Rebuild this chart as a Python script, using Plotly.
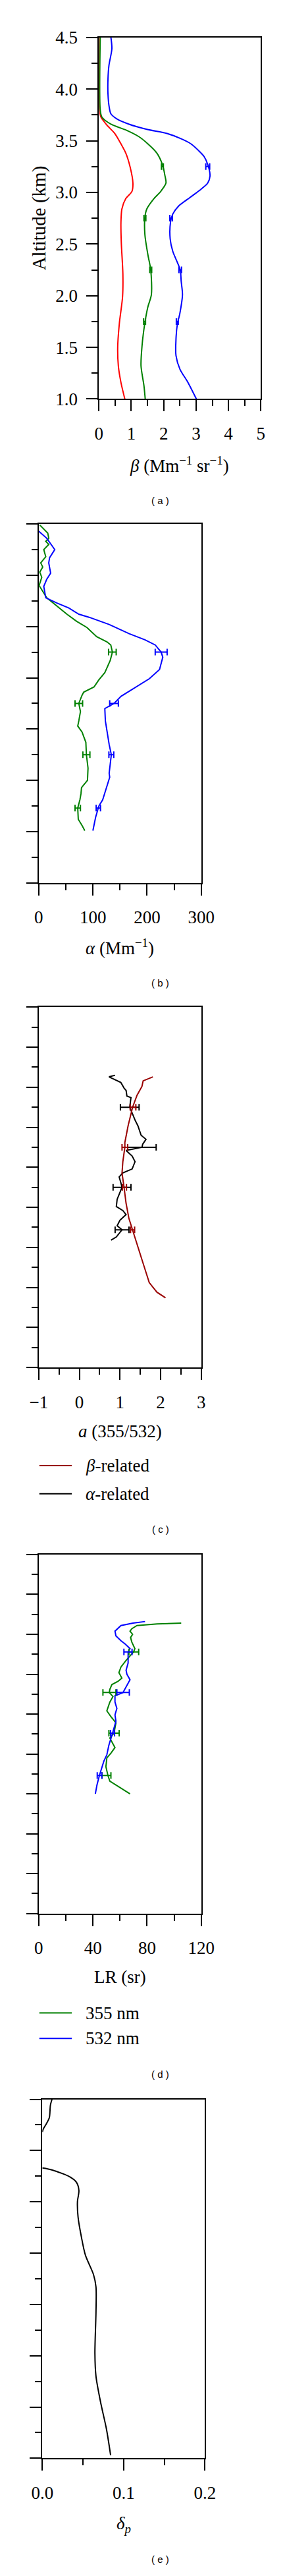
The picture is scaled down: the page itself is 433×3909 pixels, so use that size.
import plotly.graph_objects as go

W, H = 433, 3909

# ---- (a) backscatter coefficient ----
a_red_alt = [4.5, 3.80, 3.73, 3.65, 3.57, 3.47, 3.38, 3.25, 3.09, 3.01, 2.94, 2.84, 2.71, 2.52, 2.21, 1.99, 1.73, 1.50, 1.32, 1.16, 1.0]
a_red_beta = [0.02, 0.02, 0.06, 0.25, 0.49, 0.68, 0.83, 0.96, 1.05, 1.02, 0.83, 0.71, 0.68, 0.69, 0.74, 0.73, 0.63, 0.58, 0.60, 0.68, 0.80]

a_green_alt = [4.5, 3.80, 3.73, 3.66, 3.60, 3.54, 3.47, 3.38, 3.27, 3.16, 3.09, 3.01, 2.94, 2.84, 2.76, 2.59, 2.40, 2.25, 2.01, 1.89, 1.72, 1.51, 1.32, 1.13, 1.0]
a_green_beta = [0.04, 0.04, 0.09, 0.37, 0.86, 1.23, 1.51, 1.79, 1.96, 2.04, 2.07, 1.91, 1.70, 1.48, 1.42, 1.42, 1.51, 1.60, 1.62, 1.51, 1.41, 1.33, 1.30, 1.39, 1.43]

a_blue_alt = [4.5, 4.39, 4.23, 4.10, 3.95, 3.82, 3.76, 3.71, 3.66, 3.61, 3.57, 3.52, 3.47, 3.41, 3.35, 3.27, 3.16, 3.09, 3.03, 2.95, 2.87, 2.79, 2.71, 2.55, 2.43, 2.25, 2.14, 2.01, 1.83, 1.72, 1.58, 1.42, 1.29, 1.16, 1.0]
a_blue_beta = [0.37, 0.40, 0.31, 0.28, 0.28, 0.32, 0.37, 0.56, 0.93, 1.48, 2.10, 2.53, 2.84, 3.06, 3.24, 3.36, 3.43, 3.36, 3.15, 2.81, 2.47, 2.28, 2.21, 2.20, 2.28, 2.51, 2.54, 2.58, 2.50, 2.42, 2.38, 2.38, 2.50, 2.75, 3.01]

a_err_alt = [3.25, 2.75, 2.25, 1.75]
a_green_err_x = [1.96, 1.42, 1.60, 1.41]
a_green_err = [0.03, 0.03, 0.03, 0.03]
a_blue_err_x = [3.36, 2.23, 2.51, 2.42]
a_blue_err = [0.06, 0.04, 0.04, 0.03]

# ---- (b) extinction coefficient ----
b_green_alt = [4.49, 4.41, 4.36, 4.33, 4.30, 4.25, 4.18, 4.12, 4.08, 4.03, 3.98, 3.90, 3.78, 3.70, 3.62, 3.55, 3.49, 3.40, 3.35, 3.32, 3.25, 3.17, 3.05, 2.98, 2.91, 2.86, 2.83, 2.75, 2.67, 2.58, 2.53, 2.47, 2.37, 2.25, 2.12, 2.00, 1.93, 1.87, 1.81, 1.73, 1.62, 1.56, 1.51]
b_green_alpha = [1.9, 16.7, 18.5, 13, 18.5, 9.3, 13, 3.7, 7.4, 1.9, 5.6, 0.7, 14.8, 33, 52, 70, 89, 107, 126, 133, 136, 132, 122, 111, 102, 83, 80, 74, 77, 74, 72, 80, 87, 88, 91, 90, 79, 78, 76, 72, 73, 80, 85]

b_blue_alt = [4.43, 4.36, 4.25, 4.17, 4.12, 4.02, 3.96, 3.89, 3.78, 3.73, 3.68, 3.62, 3.59, 3.52, 3.43, 3.37, 3.32, 3.25, 3.20, 3.08, 2.99, 2.89, 2.82, 2.75, 2.70, 2.58, 2.47, 2.35, 2.25, 2.07, 2.03, 1.87, 1.81, 1.75, 1.73, 1.64, 1.51]
b_blue_alpha = [0, 14.8, 29.6, 20, 18.5, 22, 14.8, 9.3, 13, 33, 55.6, 74, 93, 130, 167, 196, 215, 226, 229, 223, 204, 174, 152, 139, 122, 123, 126, 130, 134, 130, 131, 122, 118, 111, 110, 105, 100]

b_err_alt = [3.25, 2.75, 2.25, 1.73]
b_green_err_x = [136, 74, 88, 72]
b_green_err = [7, 7, 6.5, 5]
b_blue_err_x = [226, 139, 134, 110]
b_blue_err = [11, 8, 4.5, 4]

# ---- (c) Angstrom exponent ----
c_beta_alt = [3.63, 3.58, 3.51, 3.40, 3.25, 3.02, 2.81, 2.75, 2.57, 2.43, 2.25, 2.05, 1.86, 1.72, 1.53, 1.30, 1.06, 0.94, 0.87]
c_beta_ae = [1.81, 1.57, 1.54, 1.42, 1.31, 1.20, 1.12, 1.12, 1.07, 1.05, 1.10, 1.15, 1.22, 1.31, 1.42, 1.57, 1.72, 1.91, 2.12]

c_alpha_alt = [3.65, 3.63, 3.56, 3.49, 3.46, 3.39, 3.37, 3.25, 3.09, 3.02, 2.90, 2.85, 2.79, 2.75, 2.71, 2.64, 2.57, 2.48, 2.43, 2.38, 2.31, 2.25, 2.10, 2.01, 1.96, 1.91, 1.84, 1.77, 1.72, 1.63, 1.59]
c_alpha_ae = [0.88, 0.73, 1.02, 1.10, 1.15, 1.17, 1.27, 1.24, 1.37, 1.44, 1.52, 1.64, 1.56, 1.54, 1.15, 1.30, 1.37, 1.30, 1.07, 0.98, 1.02, 1.05, 0.93, 0.91, 1.07, 1.15, 1.00, 0.93, 1.05, 0.91, 0.78]

c_err_alt = [3.25, 2.75, 2.25, 1.72]
c_beta_err_x = [1.32, 1.12, 1.11, 1.31]
c_beta_err = [0.07, 0.07, 0.05, 0.05]
c_alpha_err_x = [1.24, 1.54, 1.05, 1.05]
c_alpha_err = [0.23, 0.35, 0.22, 0.17]

# ---- (d) lidar ratio ----
d_355_alt = [3.64, 3.63, 3.61, 3.57, 3.54, 3.50, 3.46, 3.40, 3.32, 3.28, 3.17, 3.09, 3.02, 2.95, 2.91, 2.87, 2.81, 2.77, 2.72, 2.65, 2.54, 2.47, 2.39, 2.33, 2.26, 2.20, 2.08, 2.01, 1.95, 1.84, 1.73, 1.66, 1.57, 1.50]
d_355_lr = [105.2, 87.4, 72.5, 68.8, 67.4, 69.3, 67.8, 68.8, 71.0, 70.0, 64.4, 60.7, 59.2, 61.4, 58.5, 54.0, 52.5, 52.1, 54.8, 52.5, 50.3, 53.2, 57.0, 56.3, 55.6, 52.5, 56.3, 53.3, 50.3, 49.6, 51.1, 52.5, 60.7, 67.4]

d_532_alt = [3.66, 3.64, 3.61, 3.54, 3.48, 3.42, 3.38, 3.32, 3.28, 3.14, 3.05, 3.00, 2.93, 2.88, 2.82, 2.77, 2.73, 2.65, 2.57, 2.49, 2.41, 2.33, 2.26, 2.11, 1.99, 1.91, 1.80, 1.73, 1.61, 1.50]
d_532_lr = [78.5, 69.6, 60.7, 56.3, 57.0, 60.7, 63.7, 67.4, 66.0, 66.0, 64.5, 65.1, 67.4, 65.9, 63.7, 62.2, 56.3, 56.3, 57.7, 56.3, 57.0, 55.5, 54.5, 51.8, 50.3, 48.1, 45.9, 44.8, 43.0, 41.8]

d_err_alt = [3.28, 2.77, 2.26, 1.73]
d_355_err_x = [70.2, 52.2, 55.6, 50.0]
d_355_err = [3.6, 4.8, 3.8, 3.3]
d_532_err_x = [65.9, 62.3, 54.5, 44.9]
d_532_err = [3.0, 4.6, 1.5, 1.7]

# ---- (e) particle depolarization ratio ----
e_alt = [4.50, 4.44, 4.32, 4.26, 4.21, 4.18, None, 3.83, 3.81, 3.74, 3.69, 3.61, 3.50, 3.35, 3.16, 2.98, 2.79, 2.67, 2.42, 2.02, 1.80, 1.55, 1.28, 1.03]
e_delta = [0.0119, 0.0099, 0.0086, 0.0049, 0.0012, 0.0, None, 0.0, 0.0123, 0.0346, 0.042, 0.045, 0.0432, 0.044, 0.048, 0.053, 0.063, 0.066, 0.066, 0.0647, 0.066, 0.0716, 0.079, 0.084]

RED, GREEN, BLUE, DARKRED = "#ff0000", "#008000", "#0000ff", "#990000"
SERIF = "Liberation Serif"


def px_x(x0, x1):
    return [x0 / W, x1 / W]


def px_y(y0, y1):
    return [1 - y1 / H, 1 - y0 / H]


fig = go.Figure()


def line(x, y, color, ax, shape="linear"):
    fig.add_trace(go.Scatter(x=x, y=y, mode="lines", xaxis="x" + ax, yaxis="y" + ax,
                             line=dict(color=color, width=2, shape=shape, smoothing=0.8),
                             connectgaps=False, showlegend=False, hoverinfo="skip"))


def errs(x, y, e, color, ax):
    fig.add_trace(go.Scatter(x=x, y=y, mode="markers", xaxis="x" + ax, yaxis="y" + ax,
                             marker=dict(size=1, color=color),
                             error_x=dict(type="data", array=e, color=color, thickness=2, width=5),
                             showlegend=False, hoverinfo="skip"))


line(a_red_beta, a_red_alt, RED, "", "spline")
line(a_green_beta, a_green_alt, GREEN, "", "spline")
line(a_blue_beta, a_blue_alt, BLUE, "", "spline")
errs(a_green_err_x, a_err_alt, a_green_err, GREEN, "")
errs(a_blue_err_x, a_err_alt, a_blue_err, BLUE, "")

line(b_green_alpha, b_green_alt, GREEN, "2")
line(b_blue_alpha, b_blue_alt, BLUE, "2")
errs(b_green_err_x, b_err_alt, b_green_err, GREEN, "2")
errs(b_blue_err_x, b_err_alt, b_blue_err, BLUE, "2")

line(c_alpha_ae, c_alpha_alt, "black", "3")
line(c_beta_ae, c_beta_alt, DARKRED, "3")
errs(c_alpha_err_x, c_err_alt, c_alpha_err, "black", "3")
errs(c_beta_err_x, c_err_alt, c_beta_err, DARKRED, "3")

line(d_355_lr, d_355_alt, GREEN, "4")
line(d_532_lr, d_532_alt, BLUE, "4")
errs(d_355_err_x, d_err_alt, d_355_err, GREEN, "4")
errs(d_532_err_x, d_err_alt, d_532_err, BLUE, "4")

line(e_delta, e_alt, "black", "5", "spline")

common = dict(showline=True, linecolor="black", linewidth=2, mirror=True,
              ticks="outside", ticklen=17, tickwidth=2, tickcolor="black",
              showgrid=False, zeroline=False,
              tickfont=dict(family=SERIF, size=27, color="black"))


def minor(d):
    return dict(ticks="outside", ticklen=9, tickwidth=2, tickcolor="black", dtick=d, showgrid=False)


panels = [
    # x px, y px, xrange, xdtick, xminor, yrange, labels on y
    ((137, 406), (34, 587), [0, 5], 1, 0.5, [1, 4.5], True, None),
    ((37, 307), (778, 1327), [0, 300], 100, 50, [1, 4.5], False, None),
    ((37, 307), (1517, 2068), [-1, 3], 1, 0.5, [0, 4.5], False, None),
    ((37, 307), (2354, 2903), [0, 120], 40, 20, [0, 4.5], False, None),
    ((43, 313), (3187, 3736), [0, 0.2], 0.1, 0.05, [1, 4.5], False, ".1f"),
]

layout = dict(width=W, height=H, autosize=False, margin=dict(l=0, r=0, t=0, b=0),
              paper_bgcolor="white", plot_bgcolor="white", showlegend=False)

for i, (xp, yp, xr, xd, xm, yr, ylab, xfmt) in enumerate(panels):
    sfx = "" if i == 0 else str(i + 1)
    xa = dict(common, domain=px_x(*xp), range=xr, dtick=xd, tick0=xr[0],
              minor=minor(xm), anchor="y" + sfx, ticklabelstandoff=10)
    if xfmt:
        xa["tickformat"] = xfmt
    ya = dict(common, domain=px_y(*yp), range=yr, dtick=0.5, tick0=1,
              minor=minor(0.25), anchor="x" + sfx, showticklabels=ylab,
              tickformat=".1f", ticklabelstandoff=8)
    layout["xaxis" + sfx] = xa
    layout["yaxis" + sfx] = ya

fig.update_layout(**layout)


def note(text, x, y, size=27, family=SERIF, angle=0, xanchor="center"):
    fig.add_annotation(text=text, x=x / W, y=1 - y / H, xref="paper", yref="paper",
                       showarrow=False, xanchor=xanchor, yanchor="middle", textangle=angle,
                       font=dict(family=family, size=size, color="black"))


note("Altitude (km)", 38, 310, size=29, angle=-90)
note("<i>β</i> (Mm<sup>−1</sup> sr<sup>−1</sup>)", 271, 687)
note("<i>α</i> (Mm<sup>−1</sup>)", 172, 1425)
note("<i>a</i> (355/532)", 172, 2166)
note("LR (sr)", 172, 3000)
note("<i>δ</i><sub><i>p</i></sub>", 178, 3837)

for lab, y in [("( a )", 742), ("( b )", 1480), ("( c )", 2315), ("( d )", 3149), ("( e )", 3890)]:
    note(lab, 239, y, size=15, family="Liberation Sans")

# legends for (c) and (d)
legend_rows = [
    ("<i>β</i>-related", DARKRED, 2218),
    ("<i>α</i>-related", "black", 2261),
    ("355 nm", GREEN, 3055),
    ("532 nm", BLUE, 3094),
]
for text, color, y in legend_rows:
    fig.add_shape(type="line", xref="paper", yref="paper", x0=38 / W, x1=92 / W,
                  y0=1 - y / H, y1=1 - y / H, line=dict(color=color, width=2))
    note(text, 113, y, xanchor="left")

fig.write_html("out.html")
